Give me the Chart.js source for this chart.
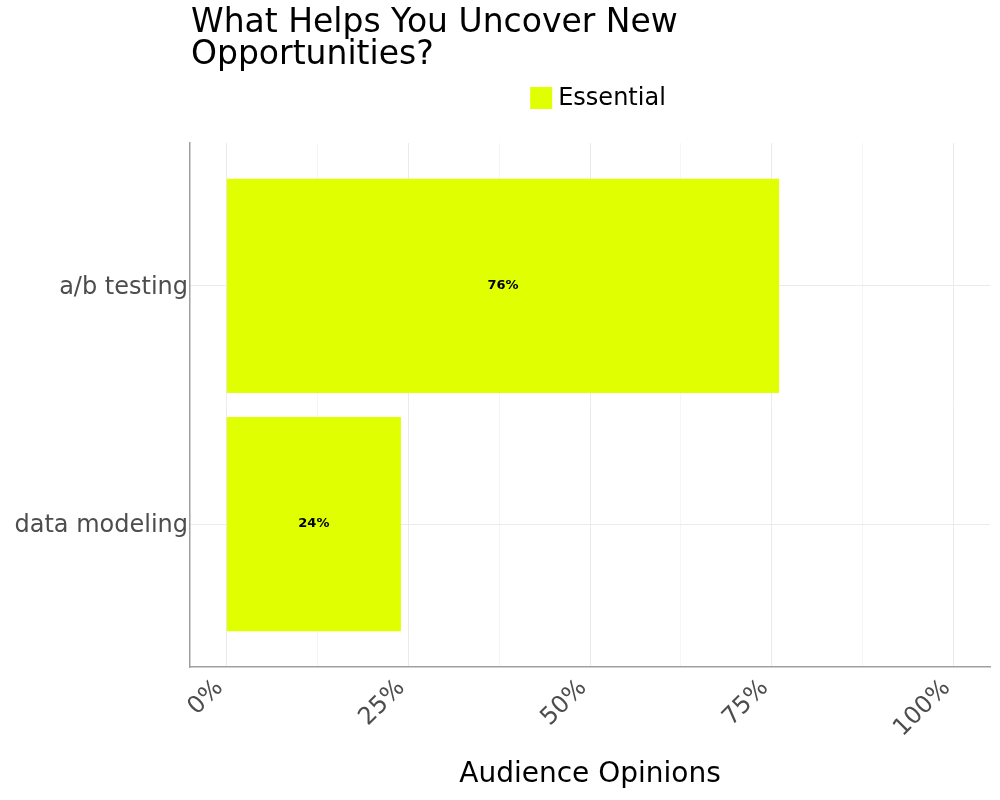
<!DOCTYPE html>
<html>
<head>
<meta charset="utf-8">
<script src="https://cdn.jsdelivr.net/npm/chart.js@4.4.1/dist/chart.umd.min.js"></script>
<style>
  html, body { margin: 0; padding: 0; background: #fff; }
  #wrap { width: 1000px; height: 800px; }
</style>
</head>
<body>
<div id="wrap"><canvas id="chart"></canvas></div>
<script>
// bottom to top, as drawn on the y axis
const categories = ["data modeling", "a/b testing"]
const essential = [24, 76]
const xTicks = [0, 12.5, 25, 37.5, 50, 62.5, 75, 87.5, 100]
const titleLines = ["What Helps You Uncover New", "Opportunities?"]
const seriesLabel = "Essential"
const axisTitle = "Audience Opinions"

const FONT = "'DejaVu Sans', sans-serif"
const BAR_COLOR = "#e0ff00"

// labels in the middle of each bar
const barLabels = {
  id: "barLabels",
  afterDatasetsDraw(chart) {
    const ctx = chart.ctx
    const meta = chart.getDatasetMeta(0)
    ctx.save()
    ctx.font = "bold 13px " + FONT
    ctx.fillStyle = "#000"
    ctx.textAlign = "center"
    ctx.textBaseline = "middle"
    meta.data.forEach((bar, i) => {
      ctx.fillText(essential[i] + "%", (bar.x + bar.base) / 2, bar.y)
    })
    ctx.restore()
  }
}

// title left-aligned to the plot, legend centred over it
const header = {
  id: "header",
  afterDraw(chart) {
    const ctx = chart.ctx
    const area = chart.chartArea
    ctx.save()
    ctx.fillStyle = "#000"
    ctx.textBaseline = "middle"
    ctx.textAlign = "left"
    ctx.font = "33px " + FONT
    titleLines.forEach((line, i) => ctx.fillText(line, area.left + 1, 23 + i * 32))

    ctx.font = "24px " + FONT
    const box = 22, gap = 6
    const total = box + gap + ctx.measureText(seriesLabel).width
    const x0 = (area.left + area.right) / 2 - total / 2 + 8
    ctx.fillStyle = BAR_COLOR
    ctx.fillRect(x0, 87, box, box)
    ctx.fillStyle = "#000"
    ctx.fillText(seriesLabel, x0 + box + gap, 99)
    ctx.restore()
  }
}

new Chart(document.getElementById("chart"), {
  type: "bar",
  data: {
    datasets: [{
      label: seriesLabel,
      data: essential.map((v, i) => ({ x: v, y: i })),
      backgroundColor: BAR_COLOR,
      borderWidth: 0,
      categoryPercentage: 1,
      barPercentage: 0.9
    }]
  },
  options: {
    indexAxis: "y",
    responsive: true,
    maintainAspectRatio: false,
    animation: false,
    layout: { padding: { top: 143, right: 10, left: 0, bottom: 0 } },
    scales: {
      x: {
        type: "linear",
        min: -5,
        max: 105,
        afterBuildTicks: (axis) => { axis.ticks = xTicks.map(v => ({ value: v })) },
        afterFit: (axis) => { axis.height = 133 },
        ticks: {
          autoSkip: false,
          minRotation: 45,
          maxRotation: 45,
          padding: 7,
          labelOffset: -7,
          color: "#4d4d4d",
          font: { family: FONT, size: 24 },
          callback: (v) => (v % 25 === 0 ? v + "%" : "")
        },
        grid: {
          drawTicks: false,
          color: (c) => (c.tick && c.tick.value % 25 === 0 ? "#ebebeb" : "#f5f5f5"),
          lineWidth: 1
        },
        border: { display: true, color: "#a0a0a0", width: 1.5 },
        title: {
          display: true,
          text: axisTitle,
          color: "#000",
          font: { family: FONT, size: 28 },
          padding: { top: 0, bottom: 8 }
        }
      },
      y: {
        type: "linear",
        offset: false,
        min: -0.6,
        max: 1.6,
        afterBuildTicks: (axis) => { axis.ticks = categories.map((c, i) => ({ value: i })) },
        afterFit: (axis) => { axis.width = 190 },
        ticks: {
          padding: 2,
          labelOffset: 2,
          color: "#4d4d4d",
          font: { family: FONT, size: 24 },
          callback: (v) => categories[v]
        },
        grid: { offset: false, drawTicks: false, color: "#ebebeb", lineWidth: 1 },
        border: { display: true, color: "#a0a0a0", width: 1.5 }
      }
    },
    plugins: {
      legend: { display: false },
      tooltip: { enabled: false }
    }
  },
  plugins: [barLabels, header]
})
</script>
</body>
</html>
